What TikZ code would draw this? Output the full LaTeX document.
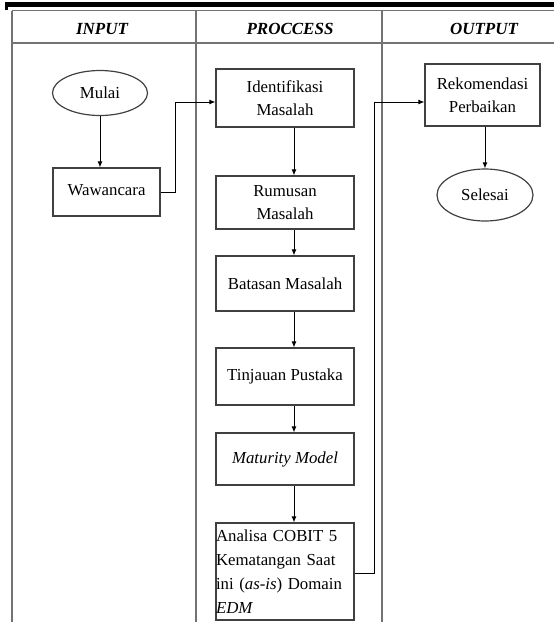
\documentclass[tikz,border=0pt]{standalone}
\usepackage{fontspec}
\setmainfont{Liberation Serif}
\usetikzlibrary{shapes.geometric,arrows.meta}
\tikzset{
  tbl/.style={draw=black!55,line width=1.5pt},
  box/.style={draw=black!75,line width=1.2pt,rectangle,inner sep=0pt,align=center,
    font=\fontsize{16.8}{23.5}\selectfont},
  oval/.style={draw=black!75,line width=1.2pt,ellipse,inner sep=0pt,
    font=\fontsize{16.8}{23.5}\selectfont},
  hdr/.style={font=\fontsize{17}{20}\selectfont\bfseries\itshape},
  arr/.style={draw=black,line width=0.9pt,-{Latex[length=6pt,width=5pt]}}
}
\begin{document}
\begin{tikzpicture}[x=1pt,y=-1pt]
\useasboundingbox (0,0) rectangle (554,622);
% top bar
\fill[black] (5,2) rectangle (554,7);
\fill[black] (5,7) rectangle (8,9.5);
% table
\draw[tbl] (12,10.5) -- (554,10.5);
\draw[tbl] (12,43) -- (554,43);
\draw[tbl] (12,10.5) -- (12,622);
\draw[tbl] (196,10.5) -- (196,622);
\draw[tbl] (382,10.5) -- (382,622);
\node[hdr] (hin) at (102,29) {INPUT};
\node[hdr] (hpr) at (290,29) {PROCCESS};
\node[hdr] (hout) at (484,29) {OUTPUT};
% nodes
\node[oval,minimum width=95pt,minimum height=45pt] (mulai) at (100,93) {Mulai};
\node[box,minimum width=107pt,minimum height=48pt] (waw) at (106.5,192) {\raisebox{4pt}{Wawancara}};
\node[box,minimum width=138pt,minimum height=58pt] (ident) at (285,98) {Identifikasi\\Masalah};
\node[box,minimum width=138pt,minimum height=53pt] (rumus) at (285,202.5) {Rumusan\\Masalah};
\node[box,minimum width=138pt,minimum height=55pt] (batas) at (285,283.5) {Batasan Masalah};
\node[box,minimum width=138pt,minimum height=57pt] (tinjau) at (285,376.5) {Tinjauan Pustaka};
\node[box,minimum width=138pt,minimum height=52pt] (matur) at (285,459) {\itshape Maturity Model};
\node[box,minimum width=138pt,minimum height=97pt,text width=138pt,align=left,
  font=\fontsize{16.8}{24}\selectfont] (anal) at (285,571.5)
  {Analisa COBIT 5\\Kematangan Saat\\ini (\textit{as-is}) Domain\\\textit{EDM}};
\node[box,minimum width=115pt,minimum height=62pt] (rekom) at (482.5,95) {Rekomendasi\\Perbaikan};
\node[oval,minimum width=96pt,minimum height=52pt] (seles) at (485,195) {Selesai};
% connectors
\coordinate (ax) at (294,0);
\coordinate (c1) at (175,102);
\coordinate (c2) at (374,102);
\coordinate (c3) at (374,573);
\draw[arr] (mulai.south) -- (mulai.south |- waw.north);
\draw[arr] (waw.east) -| (c1) -- (c1 -| ident.west);
\draw[arr] (ident.south -| ax) -- (rumus.north -| ax);
\draw[arr] (rumus.south -| ax) -- (batas.north -| ax);
\draw[arr] (batas.south -| ax) -- (tinjau.north -| ax);
\draw[arr] (tinjau.south -| ax) -- (matur.north -| ax);
\draw[arr] (matur.south -| ax) -- (anal.north -| ax);
\draw[arr] (c3 -| anal.east) -- (c3) -- (c2) -- (c2 -| rekom.west);
\draw[arr] (rekom.south -| seles.north) -- (seles.north);
\end{tikzpicture}
\end{document}
